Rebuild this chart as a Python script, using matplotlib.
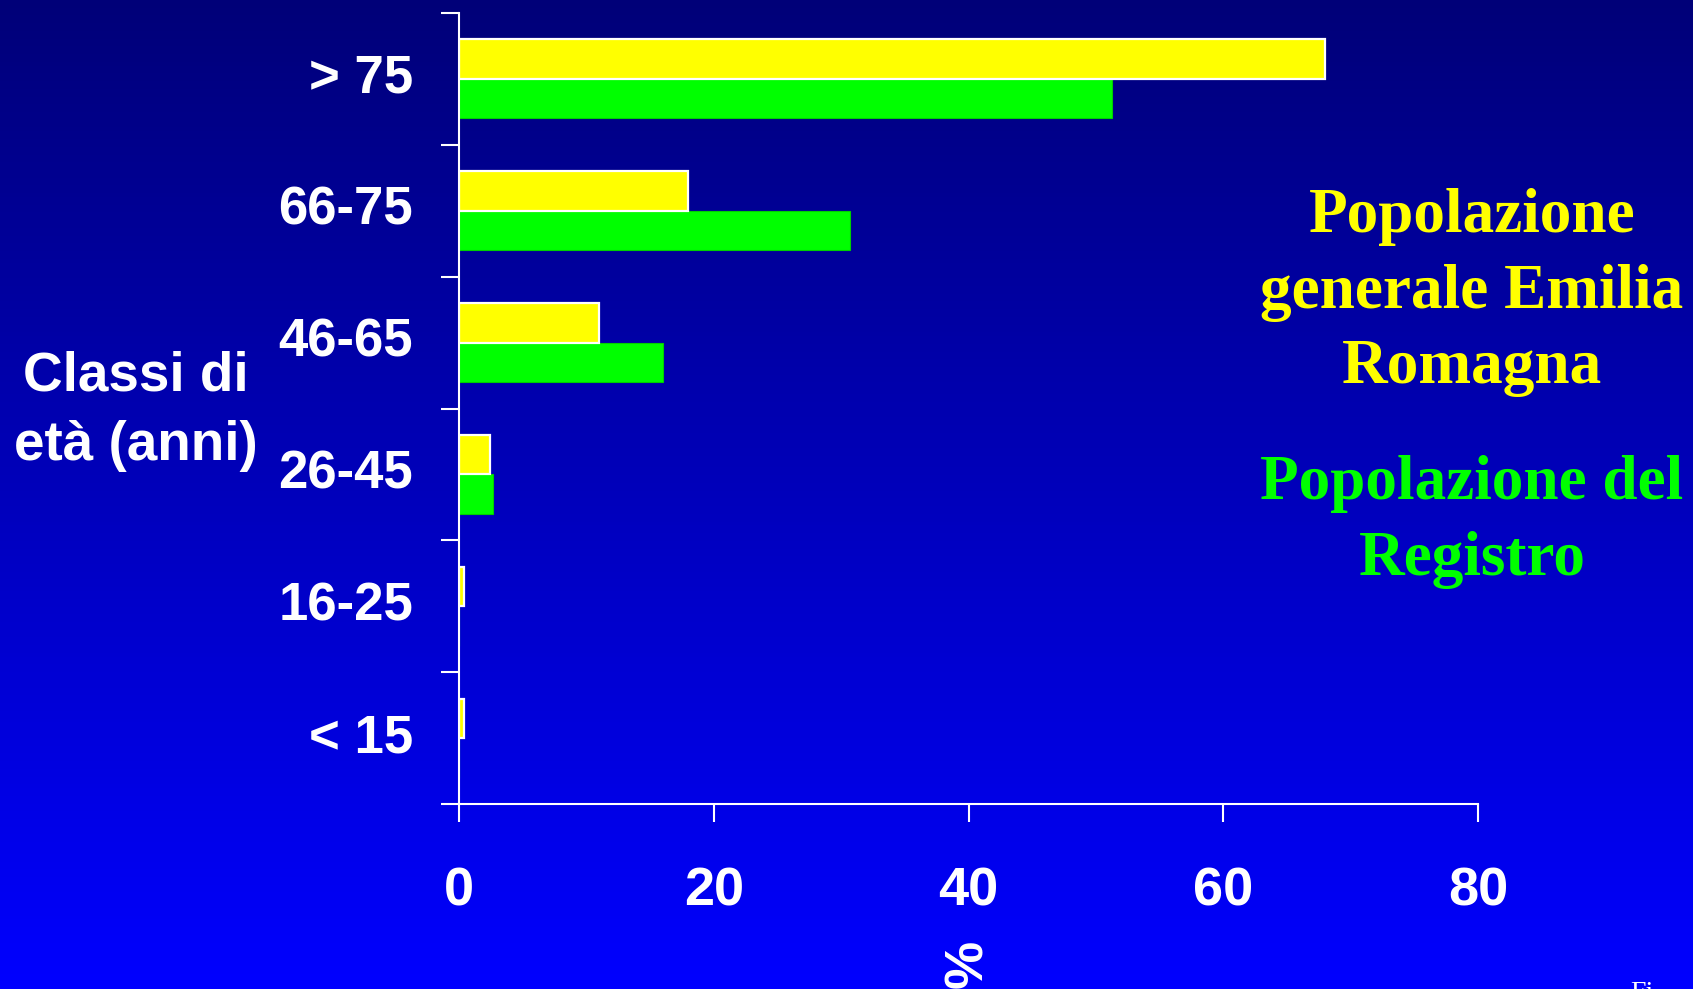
import numpy as np
import matplotlib
matplotlib.use("Agg")
import matplotlib.pyplot as plt
from matplotlib.colors import LinearSegmentedColormap

# ---- data ----
categories = ['< 15', '16-25', '26-45', '46-65', '66-75', '> 75']
pop_emilia = [0.4, 0.4, 2.4, 11.0, 18.0, 68.0]      # yellow
pop_registro = [0.0, 0.0, 2.7, 16.0, 30.7, 51.3]    # green
xticks = [0, 20, 40, 60, 80]

W, H = 1693, 989
DPI = 100
fig = plt.figure(figsize=(W / DPI, H / DPI), dpi=DPI)

def fx(x):
    return x / W

def fy(y):
    return 1 - y / H

# background gradient
bg = fig.add_axes([0, 0, 1, 1], zorder=-10)
cmap = LinearSegmentedColormap.from_list('bg', ['#000078', '#0000FF'])
grad = np.linspace(0, 1, 256).reshape(-1, 1)
bg.imshow(grad, aspect='auto', cmap=cmap, extent=[0, 1, 0, 1], origin='upper')
bg.set_axis_off()

SANS = 'Liberation Sans'
SERIF = 'Liberation Serif'

ax = fig.add_axes([fx(459), fy(804), fx(1478) - fx(459), fy(13) - fy(804)])
ax.patch.set_alpha(0)

pos = np.arange(len(categories))
ax.barh(pos - 0.15, pop_registro, height=0.3, color='#00FF00',
        edgecolor='#00D000', linewidth=0.8, zorder=2)
ax.barh(pos + 0.15, pop_emilia, height=0.3, color='#FFFF00',
        edgecolor='white', linewidth=1.6, zorder=3)

ax.set_xlim(0, 80)
ax.set_ylim(-0.5, len(categories) - 0.5)

for s in ['top', 'right']:
    ax.spines[s].set_visible(False)
for s in ['left', 'bottom']:
    ax.spines[s].set_color('white')
    ax.spines[s].set_linewidth(1.5)
    ax.spines[s].set_zorder(5)

ax.set_xticks(xticks)
ax.set_xticklabels([str(v) for v in xticks])
ax.tick_params(axis='x', direction='out', length=13, width=1.5, color='white',
               labelcolor='white', pad=32, labelsize=39)
for lab in ax.get_xticklabels():
    lab.set_fontfamily(SANS)
    lab.set_fontweight('bold')

ax.set_yticks(pos)
ax.set_yticklabels(categories)
ax.set_yticks(np.arange(-0.5, len(categories), 1.0), minor=True)
ax.tick_params(axis='y', which='major', length=0, pad=33, labelcolor='white',
               labelsize=38)
ax.tick_params(axis='y', which='minor', direction='out', length=13, width=1.5,
               color='white')
for lab in ax.get_yticklabels():
    lab.set_fontfamily(SANS)
    lab.set_fontweight('bold')
    lab.set_verticalalignment('center')

# y axis title
fig.text(fx(136), fy(390), 'Classi di', ha='center', va='baseline',
         color='white', fontsize=39.5, fontweight='bold', family=SANS)
fig.text(fx(136), fy(460), 'età (anni)', ha='center', va='baseline',
         color='white', fontsize=39.5, fontweight='bold', family=SANS)

# x axis title
fig.text(fx(968), fy(964), '%', ha='center', va='center', rotation=90,
         color='white', fontsize=39, fontweight='bold', family=SANS)

# legend-like annotations
yellow_lines = [('Popolazione', 232), ('generale Emilia', 308), ('Romagna', 383)]
green_lines = [('Popolazione del', 499), ('Registro', 575)]
for txt, yb in yellow_lines:
    fig.text(fx(1472), fy(yb), txt, ha='center', va='baseline', color='#FFFF00',
             fontsize=45.5, fontweight='bold', family=SERIF)
for txt, yb in green_lines:
    fig.text(fx(1472), fy(yb), txt, ha='center', va='baseline', color='#00FF00',
             fontsize=45.5, fontweight='bold', family=SERIF)

fig.text(fx(1630), fy(1000), 'Fi', ha='left', va='baseline', color='white',
         fontsize=20, family=SERIF)

fig.savefig('out.png', dpi=DPI)
